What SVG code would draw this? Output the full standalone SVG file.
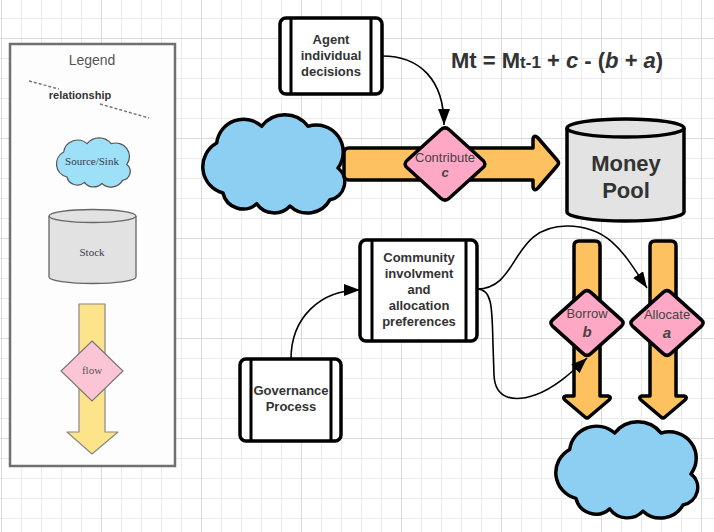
<svg xmlns="http://www.w3.org/2000/svg" width="714" height="532" viewBox="0 0 714 532">
<style>
.t{font-family:"Liberation Sans",Arial,sans-serif;fill:#333;text-anchor:middle}
.b{font-weight:bold;font-size:13px}
.r{font-size:13px;fill:#444}
.ser{font-family:"Liberation Serif","Times New Roman",serif;text-anchor:middle;font-size:11px;fill:#3a3a4a}
.box{fill:#fff;stroke:#000;stroke-width:3.5}
.bar{stroke:#000;stroke-width:3}
.flow{fill:#fdc25f;stroke:#000;stroke-width:3.5;stroke-linejoin:round}
.dia{fill:#ffa8c5;stroke:#000;stroke-width:3.5;stroke-linejoin:round}
.cloud{fill:#8dcff3;stroke:#000;stroke-linejoin:round}
.conn{fill:none;stroke:#000;stroke-width:1.6}
</style>
<defs>
<pattern id="grid" patternUnits="userSpaceOnUse" x="1" y="38" width="100" height="100">
<path d="M20.5,0V100M40.5,0V100M60.5,0V100M80.5,0V100M0,20.5H100M0,40.5H100M0,60.5H100M0,80.5H100" stroke="#ebebeb" stroke-width="1" fill="none"/>
<path d="M0.5,0V100M0,0.5H100" stroke="#dadada" stroke-width="1" fill="none"/>
</pattern>
<marker id="ah" markerUnits="userSpaceOnUse" markerWidth="17" markerHeight="12" refX="16" refY="6" orient="auto">
<path d="M0,0 L16,6 L0,12 Z" fill="#000"/>
</marker>
<path id="cloudShape" d="M16.7,30 A27,27 0 0 1 61.7,13.3 A29,29 0 0 1 108,13.3 A27,27 0 0 1 138,55 A18,18 0 0 1 130,86.7 A25.5,25.5 0 0 1 90,93 A21.4,21.4 0 0 1 56.7,90.7 A20.5,20.5 0 0 1 23,80 A27.2,27.2 0 0 1 16.7,30 Z"/>
</defs>
<rect width="714" height="532" fill="#fff"/>
<rect width="714" height="532" fill="url(#grid)"/>

<g id="legend">
<rect x="10" y="44" width="165" height="422" fill="#fdfdfd" stroke="#707070" stroke-width="2.5"/>
<text class="t" x="92" y="65" style="font-size:14px;fill:#555">Legend</text>
<path d="M29,81 L59,89 M100,104 L149,118" stroke="#777" stroke-width="1.5" stroke-dasharray="3,2" fill="none"/>
<text class="t" x="80" y="99" style="font-size:11px;font-weight:bold;fill:#333">relationship</text>
<use href="#cloudShape" transform="translate(55,137) scale(0.52,0.5)" fill="#9de0f8" stroke="#555" stroke-width="2.4"/>
<text class="ser" x="92" y="165">Source/Sink</text>
<path d="M49,216 L49,277 A43.5,6.5 0 0 0 136,277 L136,216 A43.5,6.5 0 0 0 49,216 Z" fill="#e2e2e2" stroke="#666" stroke-width="1.3"/>
<path d="M49,216 A43.5,6.5 0 0 0 136,216" fill="none" stroke="#666" stroke-width="1.3"/>
<text class="ser" x="92" y="256">Stock</text>
<path d="M79,304 L105,304 L105,432 L118,432 L92,454 L67,432 L79,432 Z" fill="#fde48b" stroke="#888" stroke-width="1.2" stroke-linejoin="round"/>
<path d="M92,341 L123,371 L92,401 L61,371 Z" fill="#fcc5d5" stroke="#777" stroke-width="1.2"/>
<text class="ser" x="92" y="374" style="fill:#555">flow</text>
</g>

<g id="source-cloud">
<use href="#cloudShape" class="cloud" x="200" y="113" stroke-width="3.5"/>
</g>

<g id="contribute-flow">
<path class="flow" d="M349,148 L533,148 L533,139 Q534,134 538,138 L557,160 Q560,163 557,166 L538,188 Q534,192 533,187 L533,180 L349,180 Q344,180 344,175 L344,153 Q344,148 349,148 Z"/>
</g>

<g id="borrow-flow">
<path class="flow" d="M574,246 Q574,241 579,241 L595,241 Q600,241 600,246 L600,396 L608,396 Q612,397 609,400 L589,417 Q587,419 585,417 L565,400 Q562,397 566,396 L574,396 Z"/>
</g>

<g id="allocate-flow">
<path class="flow" d="M650,246 Q650,241 655,241 L671,241 Q676,241 676,246 L676,396 L684,396 Q688,397 685,400 L665,417 Q663,419 661,417 L641,400 Q638,397 642,396 L650,396 Z"/>
</g>

<g id="money-pool">
<path d="M567,128 L567,212 A58.5,9 0 0 0 684,212 L684,128 A58.5,9 0 0 0 567,128 Z" fill="#e3e3e3" stroke="#000" stroke-width="3.5"/>
<path d="M567,128 A58.5,9 0 0 0 684,128" fill="none" stroke="#000" stroke-width="3.5"/>
<text class="t" x="626" y="171" style="font-size:22px;font-weight:bold">Money</text>
<text class="t" x="626" y="198" style="font-size:22px;font-weight:bold">Pool</text>
</g>

<g id="contribute">
<path class="dia" d="M440.8,129.8 Q445,126 449.2,129.8 L482.8,160.2 Q487,164 482.8,167.8 L449.2,198.2 Q445,202 440.8,198.2 L407.2,167.8 Q403,164 407.2,160.2 Z"/>
<text class="t r" x="445" y="162">Contribute</text>
<text class="t b" x="445" y="177" style="font-style:italic;fill:#444">c</text>
</g>

<g id="borrow">
<path class="dia" d="M583.2,292.4 Q587,289 590.8,292.4 L621.2,319.6 Q625,323 621.2,326.4 L590.8,353.6 Q587,357 583.2,353.6 L552.8,326.4 Q549,323 552.8,319.6 Z"/>
<text class="t r" x="587" y="318">Borrow</text>
<text class="t b" x="587" y="337" style="font-style:italic;font-size:15px;fill:#444">b</text>
</g>

<g id="allocate">
<path class="dia" d="M663.2,292.4 Q667,289 670.8,292.4 L701.2,319.6 Q705,323 701.2,326.4 L670.8,353.6 Q667,357 663.2,353.6 L632.8,326.4 Q629,323 632.8,319.6 Z"/>
<text class="t r" x="667" y="319">Allocate</text>
<text class="t b" x="667" y="338" style="font-style:italic;font-size:15px;fill:#444">a</text>
</g>

<g id="sink-cloud">
<use href="#cloudShape" class="cloud" transform="translate(553,420) scale(1,0.98)" stroke-width="3.5"/>
</g>

<g id="agent-decisions">
<rect class="box" x="280" y="18" width="102" height="76" rx="6"/>
<path class="bar" d="M291,18 V94 M371,18 V94"/>
<text class="t b" x="331" y="44">Agent</text>
<text class="t b" x="331" y="60">individual</text>
<text class="t b" x="331" y="76">decisions</text>
</g>

<g id="community">
<rect class="box" x="360" y="240" width="117" height="101" rx="6"/>
<path class="bar" d="M372,240 V341 M466,240 V341"/>
<text class="t b" x="419" y="262">Community</text>
<text class="t b" x="419" y="278">involvment</text>
<text class="t b" x="419" y="294">and</text>
<text class="t b" x="419" y="310">allocation</text>
<text class="t b" x="419" y="326">preferences</text>
</g>

<g id="governance">
<rect class="box" x="240" y="359" width="101" height="82" rx="6"/>
<path class="bar" d="M251,359 V441 M331,359 V441"/>
<text class="t b" x="291" y="395">Governance</text>
<text class="t b" x="291" y="411">Process</text>
</g>

<g id="equation">
<text x="451" y="68" style="font-family:'Liberation Sans',Arial,sans-serif;font-weight:bold;font-size:22px;fill:#333">Mt = M<tspan style="font-size:17px">t-1</tspan> + <tspan font-style="italic">c</tspan> - (<tspan font-style="italic">b</tspan> + <tspan font-style="italic">a</tspan>)</text>
</g>

<g id="connectors">
<path class="conn" d="M382,56 C420,56 444,80 444,125" marker-end="url(#ah)"/>
<path class="conn" d="M291,359 C291,318 320,290 360,290" marker-end="url(#ah)"/>
<path class="conn" d="M477,289 C520,289 510,226 567,226 C610,226 625,255 647,288" marker-end="url(#ah)"/>
<path class="conn" d="M477,289 C493,289 492,310 493,345 L494,375 C495,400 515,402 535,395 C555,388 572,372 587,358" marker-end="url(#ah)"/>
</g>
</svg>
